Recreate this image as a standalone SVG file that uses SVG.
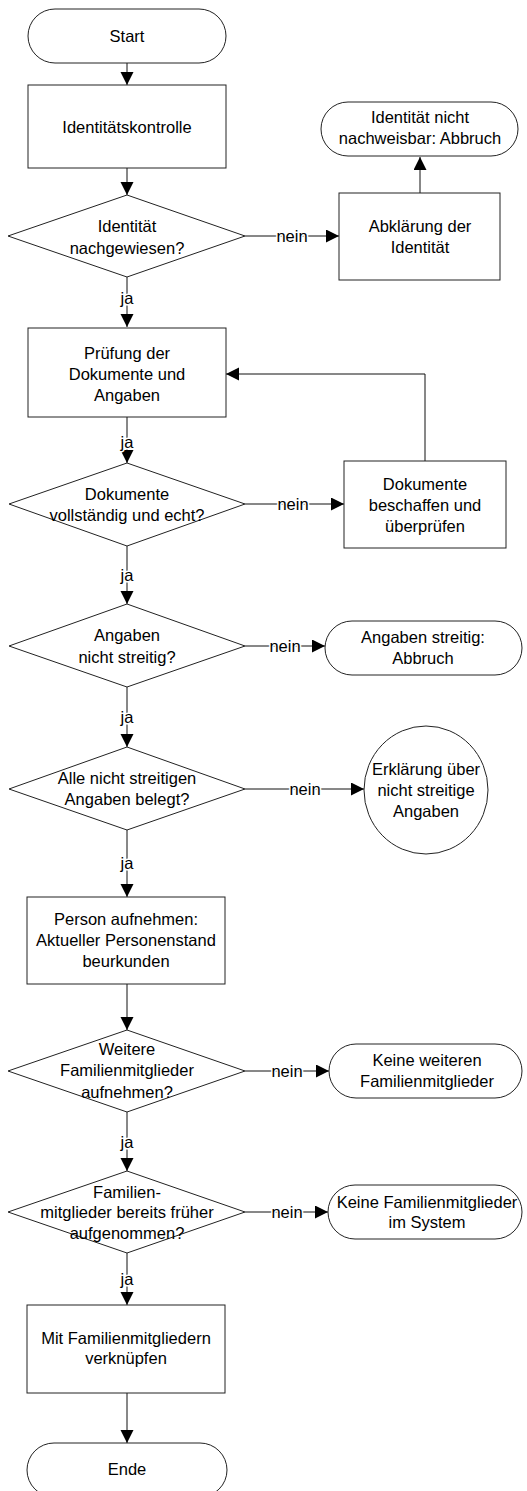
<svg xmlns="http://www.w3.org/2000/svg" width="527" height="1491" viewBox="0 0 527 1491">
<style>
  .shape { fill: #ffffff; stroke: #222222; stroke-width: 1; }
  .conn { fill: none; stroke: #111111; stroke-width: 1; }
  text { font-family: "Liberation Sans", Arial, sans-serif; font-size: 16.5px; fill: #000000; text-anchor: middle; }
  .lbl { paint-order: stroke; stroke: #ffffff; stroke-width: 3px; stroke-linejoin: round; }
</style>
<defs>
  <marker id="arrow" markerUnits="userSpaceOnUse" markerWidth="14" markerHeight="14" refX="13" refY="6.5" orient="auto">
    <path d="M0,0 L13,6.5 L0,13 z" fill="#000000"/>
  </marker>
</defs>
<rect width="527" height="1491" fill="#ffffff"/>

<g id="connectors">
  <path class="conn" d="M127,63 V85" marker-end="url(#arrow)"/>
  <path class="conn" d="M127,168 V195" marker-end="url(#arrow)"/>
  <path class="conn" d="M245,236 H339" marker-end="url(#arrow)"/>
  <text class="lbl" x="292" y="242">nein</text>
  <path class="conn" d="M420,193 V157" marker-end="url(#arrow)"/>
  <path class="conn" d="M127,277 V327" marker-end="url(#arrow)"/>
  <text class="lbl" x="127" y="304">ja</text>
  <path class="conn" d="M127,417 V463" marker-end="url(#arrow)"/>
  <text class="lbl" x="127" y="448">ja</text>
  <path class="conn" d="M245,504 H344" marker-end="url(#arrow)"/>
  <text class="lbl" x="293" y="510">nein</text>
  <path class="conn" d="M425,461 V374 H226" marker-end="url(#arrow)"/>
  <path class="conn" d="M127,546 V604" marker-end="url(#arrow)"/>
  <text class="lbl" x="127" y="581">ja</text>
  <path class="conn" d="M245,646 H325" marker-end="url(#arrow)"/>
  <text class="lbl" x="285" y="652">nein</text>
  <path class="conn" d="M127,687 V747" marker-end="url(#arrow)"/>
  <text class="lbl" x="127" y="723">ja</text>
  <path class="conn" d="M245,789 H364" marker-end="url(#arrow)"/>
  <text class="lbl" x="305" y="795">nein</text>
  <path class="conn" d="M127,830 V897" marker-end="url(#arrow)"/>
  <text class="lbl" x="127" y="869">ja</text>
  <path class="conn" d="M127,984 V1030" marker-end="url(#arrow)"/>
  <path class="conn" d="M245,1071 H329" marker-end="url(#arrow)"/>
  <text class="lbl" x="287" y="1077">nein</text>
  <path class="conn" d="M127,1112 V1171" marker-end="url(#arrow)"/>
  <text class="lbl" x="127" y="1148">ja</text>
  <path class="conn" d="M245,1212 H328" marker-end="url(#arrow)"/>
  <text class="lbl" x="287" y="1218">nein</text>
  <path class="conn" d="M127,1253 V1305" marker-end="url(#arrow)"/>
  <text class="lbl" x="127" y="1285">ja</text>
  <path class="conn" d="M127,1393 V1443" marker-end="url(#arrow)"/>
</g>

<g id="start">
  <rect class="shape" x="28" y="9" width="198" height="54" rx="27" ry="27"/>
  <text x="127" y="42">Start</text>
</g>
<g id="identitaetskontrolle">
  <rect class="shape" x="28" y="85" width="198" height="83"/>
  <text x="127" y="133">Identitätskontrolle</text>
</g>
<g id="d-identitaet">
  <polygon class="shape" points="8,236 127,195 245,236 127,277"/>
  <text x="127" y="232">Identität</text>
  <text x="127" y="254">nachgewiesen?</text>
</g>
<g id="abklaerung">
  <rect class="shape" x="339" y="193" width="161" height="87"/>
  <text x="420" y="232">Abklärung der</text>
  <text x="420" y="253">Identität</text>
</g>
<g id="abbruch-identitaet">
  <rect class="shape" x="321" y="102" width="197" height="54" rx="27" ry="27"/>
  <text x="420" y="123">Identität nicht</text>
  <text x="420" y="144">nachweisbar: Abbruch</text>
</g>
<g id="pruefung">
  <rect class="shape" x="28" y="328" width="198" height="89"/>
  <text x="127" y="359">Prüfung der</text>
  <text x="127" y="380">Dokumente und</text>
  <text x="127" y="401">Angaben</text>
</g>
<g id="d-dokumente">
  <polygon class="shape" points="9,504 127,463 245,504 127,546"/>
  <text x="127" y="500">Dokumente</text>
  <text x="127" y="521">vollständig und echt?</text>
</g>
<g id="beschaffen">
  <rect class="shape" x="344" y="461" width="162" height="87"/>
  <text x="425" y="490">Dokumente</text>
  <text x="425" y="511">beschaffen und</text>
  <text x="425" y="532">überprüfen</text>
</g>
<g id="d-angaben">
  <polygon class="shape" points="9,646 127,604 245,646 127,687"/>
  <text x="127" y="641">Angaben</text>
  <text x="127" y="663">nicht streitig?</text>
</g>
<g id="abbruch-angaben">
  <rect class="shape" x="325" y="621" width="197" height="54" rx="27" ry="27"/>
  <text x="423" y="643">Angaben streitig:</text>
  <text x="423" y="664">Abbruch</text>
</g>
<g id="d-belegt">
  <polygon class="shape" points="9,789 127,747 245,789 127,830"/>
  <text x="127" y="784">Alle nicht streitigen</text>
  <text x="127" y="805">Angaben belegt?</text>
</g>
<g id="erklaerung">
  <ellipse class="shape" cx="426" cy="790" rx="62" ry="64"/>
  <text x="426" y="775">Erklärung über</text>
  <text x="426" y="796">nicht streitige</text>
  <text x="426" y="817">Angaben</text>
</g>
<g id="person">
  <rect class="shape" x="27" y="897" width="198" height="87"/>
  <text x="126" y="925">Person aufnehmen:</text>
  <text x="126" y="946">Aktueller Personenstand</text>
  <text x="126" y="967">beurkunden</text>
</g>
<g id="d-weitere">
  <polygon class="shape" points="8,1071 127,1030 245,1071 127,1112"/>
  <text x="127" y="1055">Weitere</text>
  <text x="127" y="1076">Familienmitglieder</text>
  <text x="127" y="1098">aufnehmen?</text>
</g>
<g id="keine-weiteren">
  <rect class="shape" x="329" y="1044" width="193" height="54" rx="27" ry="27"/>
  <text x="427" y="1066">Keine weiteren</text>
  <text x="427" y="1087">Familienmitglieder</text>
</g>
<g id="d-frueher">
  <polygon class="shape" points="8,1212 127,1171 245,1212 127,1253"/>
  <text x="127" y="1198">Familien-</text>
  <text x="127" y="1218">mitglieder bereits früher</text>
  <text x="127" y="1239">aufgenommen?</text>
</g>
<g id="keine-im-system">
  <rect class="shape" x="328" y="1185" width="194" height="54" rx="27" ry="27"/>
  <text x="427" y="1208">Keine Familienmitglieder</text>
  <text x="427" y="1228">im System</text>
</g>
<g id="verknuepfen">
  <rect class="shape" x="27" y="1305" width="198" height="88"/>
  <text x="126" y="1344">Mit Familienmitgliedern</text>
  <text x="126" y="1364">verknüpfen</text>
</g>
<g id="ende">
  <rect class="shape" x="27" y="1443" width="200" height="54" rx="27" ry="27"/>
  <text x="127" y="1475">Ende</text>
</g>
</svg>
